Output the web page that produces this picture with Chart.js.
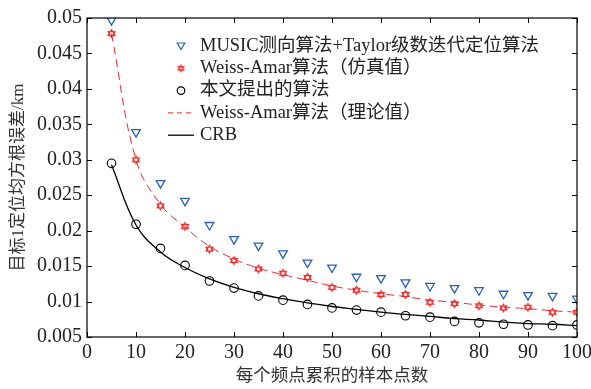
<!DOCTYPE html>
<html>
<head>
<meta charset="utf-8">
<script src="https://cdn.jsdelivr.net/npm/chart.js@4.4.1/dist/chart.umd.min.js"></script>
<style>
  html, body { margin: 0; padding: 0; background: #fff; }
  #wrap { width: 591px; height: 389px; }
</style>
</head>
<body>
<div id="wrap"><canvas id="grafico" width="591" height="389"></canvas></div>
<script>
// Dados
const amostras = [5, 10, 15, 20, 25, 30, 35, 40, 45, 50, 55, 60, 65, 70, 75, 80, 85, 90, 95, 100];
const music = [0.0497, 0.0339, 0.0267, 0.0242, 0.0208, 0.0188, 0.0179, 0.0168, 0.0155, 0.0148, 0.0135, 0.0133, 0.0127, 0.0122, 0.0119, 0.0116, 0.0111, 0.0109, 0.0108, 0.0104];
const weissSim = [0.0478, 0.0300, 0.0235, 0.0206, 0.0174, 0.0158, 0.0146, 0.0140, 0.0134, 0.0120, 0.0116, 0.0110, 0.0110, 0.0099, 0.0097, 0.0094, 0.0091, 0.0092, 0.0085, 0.0085];
const proposto = [0.0295, 0.0209, 0.0175, 0.0151, 0.0129, 0.0119, 0.0108, 0.0102, 0.0096, 0.0091, 0.0088, 0.0085, 0.0080, 0.0078, 0.0072, 0.0070, 0.0068, 0.0067, 0.0066, 0.0067];
const weissTeo = [0.0478, 0.0300, 0.0237, 0.0205, 0.0178, 0.0160, 0.0147, 0.0138, 0.0130, 0.0122, 0.0116, 0.0111, 0.0107, 0.0102, 0.0099, 0.0095, 0.0092, 0.0090, 0.0087, 0.0085];
const crb = [0.0293, 0.0208, 0.0170, 0.0148, 0.0132, 0.0120, 0.0111, 0.0104, 0.0098, 0.0093, 0.0089, 0.0085, 0.0082, 0.0079, 0.0076, 0.0074, 0.0071, 0.0069, 0.0068, 0.0066];
const nomes = ["MUSIC测向算法+Taylor级数迭代定位算法", "Weiss-Amar算法（仿真值）", "本文提出的算法", "Weiss-Amar算法（理论值）", "CRB"];

const fonte = '"Liberation Serif", "Noto Sans CJK SC", serif';
const azul = "#2a5fc0";
const vermelho = "#f02828";

// Estrela de seis pontas (hexagrama) para o marcador
function hexagrama(cor, r) {
    const c = document.createElement("canvas");
    c.width = 11; c.height = 11;
    const g = c.getContext("2d");
    g.strokeStyle = cor;
    g.lineWidth = 1.1;
    const cx = 5.5, cy = 5.5;
    for (let k = 0; k < 2; k++) {
        g.beginPath();
        for (let i = 0; i < 3; i++) {
            const a = (k ? Math.PI / 2 : -Math.PI / 2) + i * 2 * Math.PI / 3;
            const px = cx + r * Math.cos(a), py = cy + r * Math.sin(a);
            if (i === 0) g.moveTo(px, py); else g.lineTo(px, py);
        }
        g.closePath();
        g.stroke();
    }
    return c;
}
const estrela = hexagrama(vermelho, 4);
const estrelaPeq = hexagrama(vermelho, 3.3);

function pares(ys) {
    return amostras.map((x, i) => ({ x: x, y: ys[i] }));
}

// Moldura, ticks para dentro e legenda interna
const moldura = {
    id: "moldura",
    afterDraw(chart) {
        const ctx = chart.ctx;
        const a = chart.chartArea;
        const sx = chart.scales.x, sy = chart.scales.y;
        ctx.save();
        ctx.strokeStyle = "#000";
        ctx.lineWidth = 1.2;
        ctx.strokeRect(a.left, a.top, a.right - a.left, a.bottom - a.top);
        ctx.lineWidth = 1;
        ctx.beginPath();
        sx.ticks.forEach(t => {
            const p = Math.round(sx.getPixelForValue(t.value)) + 0.5;
            ctx.moveTo(p, a.bottom); ctx.lineTo(p, a.bottom - 5);
            ctx.moveTo(p, a.top); ctx.lineTo(p, a.top + 5);
        });
        sy.ticks.forEach(t => {
            const p = Math.round(sy.getPixelForValue(t.value)) + 0.5;
            ctx.moveTo(a.left, p); ctx.lineTo(a.left + 5, p);
            ctx.moveTo(a.right, p); ctx.lineTo(a.right - 5, p);
        });
        ctx.stroke();

        // legenda
        const lx = 181, tx = 200, y0 = 46, dy = 22.3;
        ctx.font = "18.5px " + fonte;
        ctx.fillStyle = "#222";
        ctx.textBaseline = "middle";
        nomes.forEach((n, i) => ctx.fillText(n, tx, y0 + i * dy));
        // triângulo
        ctx.strokeStyle = azul; ctx.lineWidth = 1.2;
        ctx.beginPath();
        ctx.moveTo(lx - 3.8, y0 - 3); ctx.lineTo(lx + 3.8, y0 - 3); ctx.lineTo(lx, y0 + 3.5); ctx.closePath();
        ctx.stroke();
        ctx.drawImage(estrelaPeq, lx - 5.5, y0 + dy - 5.5);
        ctx.strokeStyle = "#000";
        ctx.beginPath(); ctx.arc(lx, y0 + 2 * dy, 3.8, 0, 2 * Math.PI); ctx.stroke();
        ctx.strokeStyle = vermelho; ctx.lineWidth = 1;
        ctx.setLineDash([5, 4]);
        ctx.beginPath(); ctx.moveTo(168, y0 + 3 * dy); ctx.lineTo(194, y0 + 3 * dy); ctx.stroke();
        ctx.setLineDash([]);
        ctx.strokeStyle = "#000"; ctx.lineWidth = 1.3;
        ctx.beginPath(); ctx.moveTo(168, y0 + 4 * dy); ctx.lineTo(194, y0 + 4 * dy); ctx.stroke();
        ctx.restore();
    }
};

const ctx = document.getElementById("grafico").getContext("2d");
const grafico = new Chart(ctx, {
    type: "scatter",
    data: {
        datasets: [
            {
                label: nomes[3], data: pares(weissTeo), showLine: true, pointRadius: 0,
                borderColor: vermelho, borderWidth: 1, borderDash: [8, 5], tension: 0.4, order: 5
            },
            {
                label: nomes[4], data: pares(crb), showLine: true, pointRadius: 0,
                borderColor: "#000", borderWidth: 1.3, tension: 0.4, order: 4
            },
            {
                label: nomes[0], data: pares(music), pointStyle: "triangle", rotation: 180,
                pointRadius: 5, borderColor: azul, backgroundColor: "rgba(0,0,0,0)", pointBorderWidth: 1.3, order: 1
            },
            {
                label: nomes[1], data: pares(weissSim), pointStyle: estrela,
                borderColor: vermelho, backgroundColor: vermelho, order: 2
            },
            {
                label: nomes[2], data: pares(proposto), pointStyle: "circle", pointRadius: 4.3,
                borderColor: "#000", backgroundColor: "rgba(0,0,0,0)", pointBorderWidth: 1.1, order: 3
            }
        ]
    },
    options: {
        responsive: false,
        animation: false,
        layout: { padding: { left: 0, right: 14, top: 18, bottom: 0 } },
        plugins: { legend: { display: false }, tooltip: { enabled: false } },
        scales: {
            x: {
                type: "linear", min: 0, max: 100,
                ticks: { stepSize: 10, color: "#222", font: { family: fonte, size: 20 }, padding: 4, maxRotation: 0 },
                grid: { display: false, drawTicks: false },
                border: { display: false },
                title: { display: true, text: "每个频点累积的样本点数", color: "#333", font: { family: fonte, size: 17.5 }, padding: { top: 0, bottom: 2 } },
                afterFit: s => { s.height = 52; s.paddingLeft = 0; s.paddingRight = 0; }
            },
            y: {
                type: "linear", min: 0.005, max: 0.05,
                ticks: {
                    stepSize: 0.005, color: "#222", font: { family: fonte, size: 20 }, padding: 5,
                    callback: v => String(Number(v.toFixed(3)))
                },
                grid: { display: false, drawTicks: false },
                border: { display: false },
                title: { display: true, text: "目标1定位均方根误差/km", color: "#333", font: { family: fonte, size: 17 }, padding: { top: 8, bottom: 0 } },
                afterFit: s => { s.width = 87; s.paddingTop = 0; s.paddingBottom = 0; }
            }
        }
    },
    plugins: [moldura]
});
</script>
</body>
</html>
